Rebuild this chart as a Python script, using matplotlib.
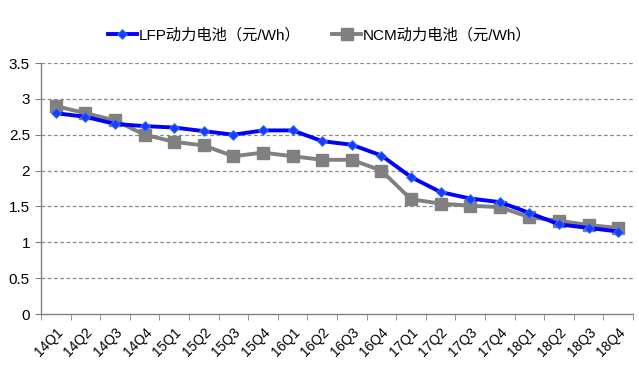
import matplotlib
matplotlib.use("Agg")
import matplotlib.pyplot as plt
import numpy as np

quarters = ["14Q1", "14Q2", "14Q3", "14Q4", "15Q1", "15Q2", "15Q3", "15Q4",
            "16Q1", "16Q2", "16Q3", "16Q4", "17Q1", "17Q2", "17Q3", "17Q4",
            "18Q1", "18Q2", "18Q3", "18Q4"]
lfp = [2.8, 2.75, 2.65, 2.62, 2.6, 2.55, 2.5, 2.56, 2.56, 2.41, 2.36, 2.21,
       1.91, 1.7, 1.61, 1.56, 1.41, 1.25, 1.2, 1.15]
ncm = [2.9, 2.8, 2.7, 2.5, 2.4, 2.35, 2.2, 2.25, 2.2, 2.15, 2.15, 2.0,
       1.6, 1.54, 1.51, 1.49, 1.35, 1.3, 1.24, 1.2]

plt.rcParams["font.family"] = ["Liberation Sans", "Noto Sans CJK SC"]

fig = plt.figure(figsize=(6.39, 3.75), dpi=100)
ax = fig.add_axes([41 / 639, 1 - 314 / 375, 592 / 639, 251 / 375])

x = np.arange(len(quarters))
ax.plot(x, lfp, color="#0000FF", lw=2.8, marker="D", ms=5,
        mfc="#1a3cff", mec="#3a7bff", mew=0.6, label="LFP动力电池（元/Wh）", zorder=4)
ax.plot(x, ncm, color="#808080", lw=2.8, marker="s", ms=8,
        mfc="#808080", mec="#808080", label="NCM动力电池（元/Wh）", zorder=3)

ax.set_xlim(-0.5, len(quarters) - 0.5)
ax.set_ylim(0, 3.5)
ax.set_yticks(np.arange(0, 3.51, 0.5))
ax.set_yticklabels(["0", "0.5", "1", "1.5", "2", "2.5", "3", "3.5"], fontsize=11)
for yv in np.arange(0.5, 3.51, 0.5):
    ax.axhline(yv, color="#8a8a8a", ls=(0, (3, 2)), lw=0.9, zorder=1)

ax.set_xticks(x)
ax.set_xticklabels(quarters, rotation=45, ha="right", rotation_mode="anchor", fontsize=10)
ax.tick_params(axis="x", which="major", length=0, pad=8)
ax.set_xticks(np.arange(-0.5, len(quarters), 1), minor=True)
ax.tick_params(axis="x", which="minor", length=4, color="#808080")
ax.tick_params(axis="y", length=4, color="#808080", pad=4)

for side in ["top", "right"]:
    ax.spines[side].set_visible(False)
for side in ["left", "bottom"]:
    ax.spines[side].set_color("#808080")
    ax.spines[side].set_linewidth(1)

fig.legend(loc="center", bbox_to_anchor=(0.5, 1 - 35 / 375), ncol=2, frameon=False,
           fontsize=11, handlelength=1.9, columnspacing=2.1, handletextpad=0.1)

fig.savefig("out.png", dpi=100)
